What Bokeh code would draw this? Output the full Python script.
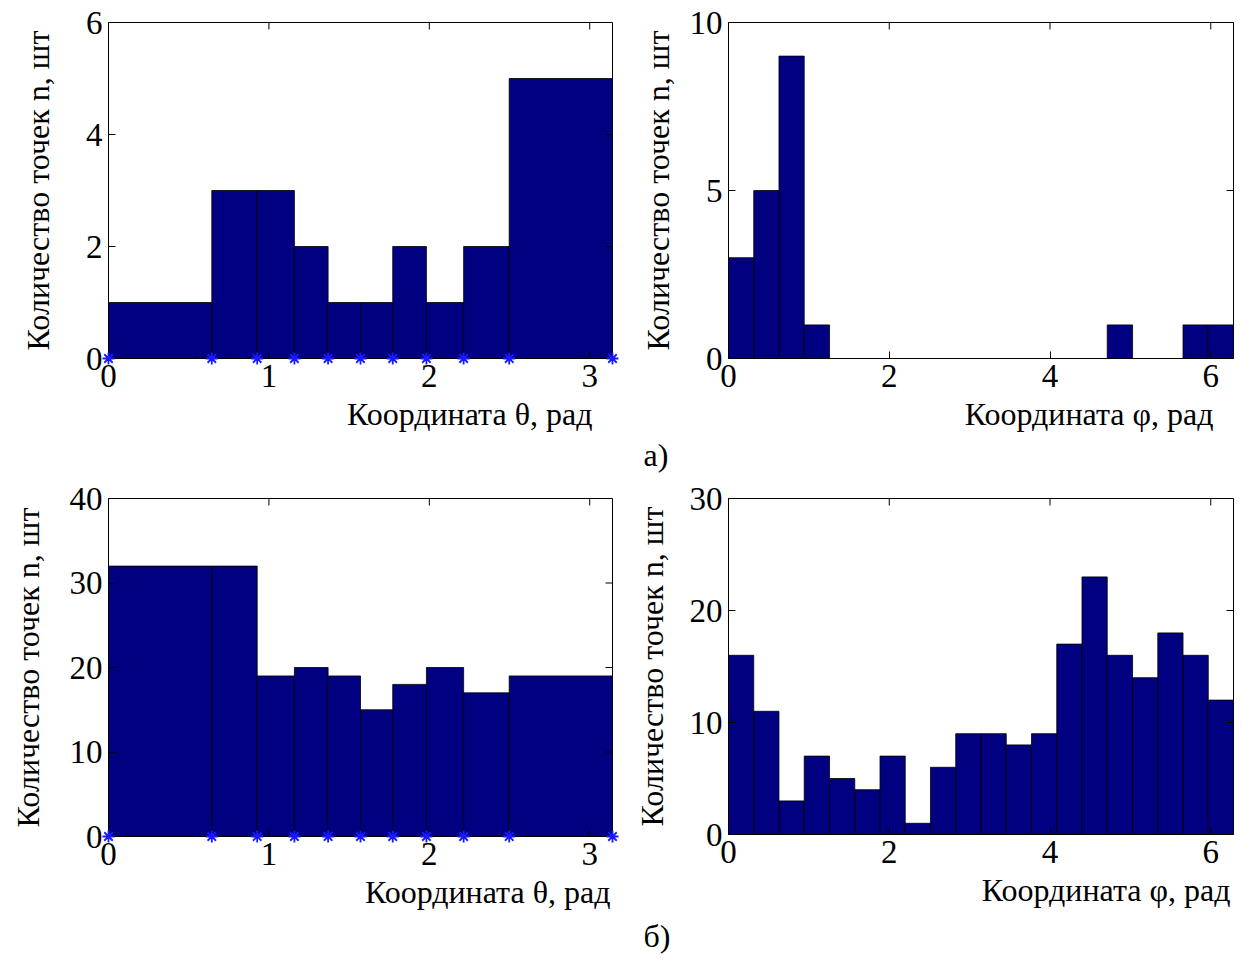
import math
from bokeh.plotting import figure
from bokeh.models import FixedTicker, Range1d, Title
from bokeh.layouts import column, row
from bokeh.embed import file_html
from bokeh.resources import INLINE

# ---------------- data ----------------
theta_edges = [0.000, 0.644, 0.927, 1.159, 1.369, 1.571, 1.772, 1.982, 2.214, 2.498, 3.142]
theta_counts_a = [1, 3, 3, 2, 1, 1, 2, 1, 2, 5]
theta_counts_b = [32, 32, 19, 20, 19, 15, 18, 20, 17, 19]

phi_edges = [0.000, 0.314, 0.628, 0.942, 1.257, 1.571, 1.885, 2.199, 2.513, 2.827, 3.142,
             3.456, 3.770, 4.084, 4.398, 4.712, 5.027, 5.341, 5.655, 5.969, 6.283]
phi_counts_a = [3, 5, 9, 1, 0, 0, 0, 0, 0, 0, 0, 0, 0, 0, 0, 1, 0, 0, 1, 1]
phi_counts_b = [16, 11, 3, 7, 5, 4, 7, 1, 6, 9, 9, 8, 9, 17, 23, 16, 14, 18, 16, 12]

theta_xticks = [0, 1, 2, 3]
phi_xticks = [0, 2, 4, 6]
yticks_a_theta = [0, 2, 4, 6]
yticks_a_phi = [0, 5, 10]
yticks_b_theta = [0, 10, 20, 30, 40]
yticks_b_phi = [0, 10, 20, 30]

ylabel = "Количество точек n, шт"
xlabel_theta = "Координата θ, рад"
xlabel_phi = "Координата φ, рад"
panel_labels = ["а)", "б)"]

FONT = "Liberation Serif"
BAR = "#000080"
TICK_FS = "33px"
LABEL_FS = "32px"
TICK_LEN = 7


def style_axis(ax, ticks):
    ax.ticker = FixedTicker(ticks=ticks)
    ax.major_tick_in = TICK_LEN
    ax.major_tick_out = 0
    ax.minor_tick_line_color = None
    ax.axis_line_color = "black"
    ax.major_tick_line_color = "black"
    ax.major_label_text_font = FONT
    ax.major_label_text_color = "black"
    ax.major_label_text_font_size = TICK_FS
    ax.major_label_standoff = 6
    ax.axis_label_text_font = FONT
    ax.axis_label_text_font_size = LABEL_FS
    ax.axis_label_text_font_style = "normal"
    ax.axis_label_text_color = "black"


def below_text(p, text, align, offset, standoff):
    p.add_layout(Title(text=text, align=align, offset=offset, standoff=standoff,
                       text_font=FONT, text_font_size=LABEL_FS,
                       text_font_style="normal", text_color="black"), "below")


def make_fig(edges, counts, ymax, xticks, yticks, xlabel, fw, fh, bl, br, bt, bb,
             ystandoff, xlabel_offset, xlabel_standoff, stars=False):
    xmin, xmax = edges[0], edges[-1]
    p = figure(frame_width=fw, frame_height=fh,
               min_border_left=bl, min_border_right=br,
               min_border_top=bt, min_border_bottom=bb,
               x_range=Range1d(xmin, xmax), y_range=Range1d(0, ymax),
               output_backend="svg", toolbar_location=None, tools="")
    p.xgrid.visible = False
    p.ygrid.visible = False
    p.outline_line_color = "black"
    p.outline_line_width = 1
    p.background_fill_color = "white"
    p.border_fill_color = "white"

    p.quad(left=edges[:-1], right=edges[1:], bottom=0, top=counts,
           fill_color=BAR, line_color="black", line_width=0.8)

    # inward ticks on the top and right edges of the box (MATLAB style)
    p.ray(x=xticks, y=[ymax] * len(xticks), length=TICK_LEN, length_units="screen",
          angle=-math.pi / 2, line_color="black", line_width=1)
    p.ray(x=[xmax] * len(yticks), y=yticks, length=TICK_LEN, length_units="screen",
          angle=math.pi, line_color="black", line_width=1)

    if stars:
        p.scatter(edges, [0] * len(edges), marker="asterisk", size=12,
                  line_color="#1a1aff", line_width=1.8, level="overlay")

    xa = p.xaxis[0]
    ya = p.yaxis[0]
    style_axis(xa, xticks)
    style_axis(ya, yticks)
    ya.axis_label = ylabel
    ya.axis_label_standoff = ystandoff
    below_text(p, xlabel, "right", xlabel_offset, xlabel_standoff)
    return p


pa = make_fig(theta_edges, theta_counts_a, 6, theta_xticks, yticks_a_theta, xlabel_theta,
              504, 336, 108, 16, 22, 119, 27, 20, 8, stars=True)
pb = make_fig(phi_edges, phi_counts_a, 10, phi_xticks, yticks_a_phi, xlabel_phi,
              505, 336, 100, 2, 22, 119, 11, 20, 8)
pc = make_fig(theta_edges, theta_counts_b, 40, theta_xticks, yticks_b_theta, xlabel_theta,
              504, 338, 108, 16, 17, 120, 21, 2, 8, stars=True)
pd = make_fig(phi_edges, phi_counts_b, 30, phi_xticks, yticks_b_phi, xlabel_phi,
              505, 336, 100, 2, 21, 129, 17, 3, 8)

below_text(pb, panel_labels[0], "left", -85, -2)
below_text(pd, panel_labels[1], "left", -85, 8)

layout = column(row(pa, pb), row(pc, pd))

with open("out.html", "w") as f:
    f.write(file_html(layout, INLINE))
